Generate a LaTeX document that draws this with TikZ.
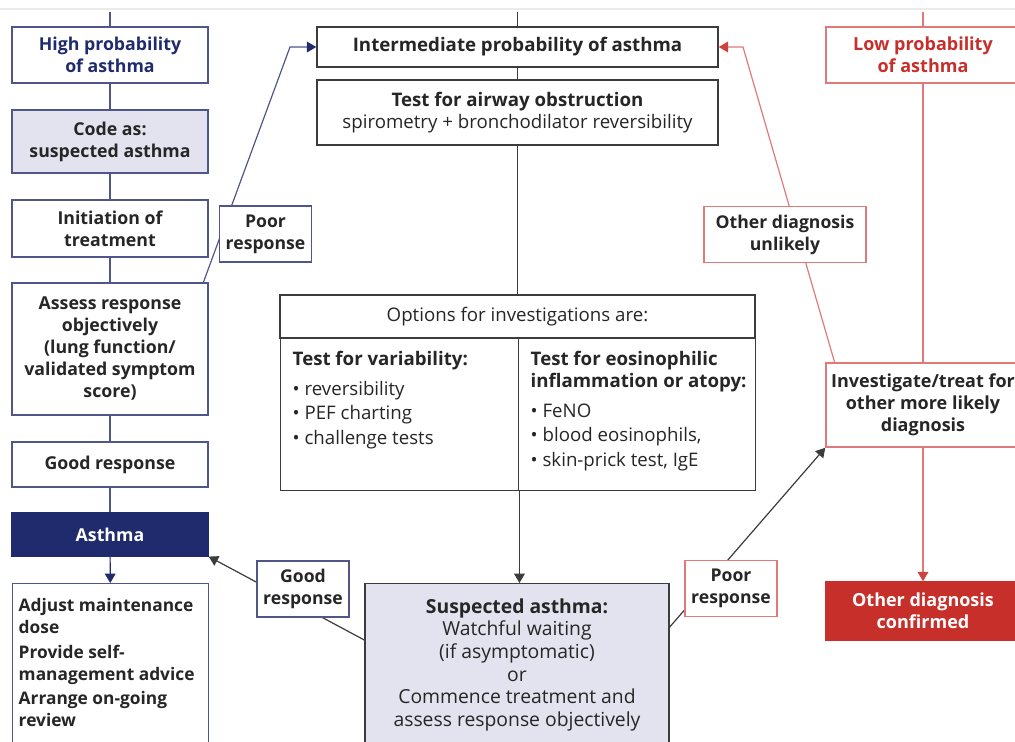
\documentclass[tikz,border=0pt]{standalone}
\usepackage{fontspec}
\setmainfont{Open Sans}
\usetikzlibrary{arrows.meta}

\begin{document}
\begin{tikzpicture}[x=0.75pt, y=-0.75pt, every node/.style={font=\fontsize{14}{16.5}\selectfont, align=center, text=black!85}]
  \definecolor{bleu}{HTML}{1F2B6C} \definecolor{bleutrait}{HTML}{50558A} \definecolor{lavande}{HTML}{E3E3EF}
  \definecolor{rouge}{HTML}{C62F2A} \definecolor{rougetrait}{HTML}{E07A7A} \definecolor{gris}{HTML}{3C3C3C}
  \tikzstyle{gras}=[font=\fontsize{14}{16.5}\selectfont\bfseries]
  \tikzstyle{boite}=[draw, line width=1.1pt, fill=white, inner sep=0pt]
  \tikzstyle{gauche}=[boite, font=\fontsize{13.3}{16.5}\selectfont\bfseries, draw=bleutrait, minimum width=147pt]
  \tikzstyle{centre}=[boite, draw=gris]
  \tikzstyle{droite}=[boite, font=\fontsize{13.5}{16.5}\selectfont\bfseries, draw=rougetrait, minimum width=145.5pt]
  \tikzstyle{etiquette}=[boite, font=\fontsize{13.2}{16.5}\selectfont\bfseries, minimum width=69pt, minimum height=42pt]
  \tikzstyle{trait}=[line width=1.1pt]
  \tikzstyle{edge}=[-{Triangle[length=7pt, width=8pt]}, line width=0.9pt]
  \useasboundingbox (0,0) rectangle (1015,742);
  \draw[black!8, line width=1.2pt] (0,9) -- (1015,9);
  % high probability column
  \node[gauche, text=bleu, minimum height=42pt] (high) at (110,55) {High probability\\of asthma};
  \node[gauche, fill=lavande, minimum height=47pt] (code) at (110,141.5) {Code as:\\suspected asthma};
  \node[gauche, minimum height=43pt] (init) at (110,228.5) {Initiation of\\treatment};
  \node[gauche, minimum height=99pt] (assess) at (110,349) {Assess response\\objectively\\(lung function/\\validated symptom\\score)};
  \node[gauche, minimum height=34pt] (good) at (110,464.5) {Good response};
  \node[gauche, fill=bleu, draw=bleu, text=white, minimum height=32pt] (asthma) at (110,534.5) {Asthma};
  \node[gauche, font=\fontsize{13}{16.5}\selectfont\bfseries, anchor=north west, inner xsep=4.5pt, inner ysep=11pt] (advice) at (12,583) {\begin{minipage}[t][112pt][t]{138pt}\raggedright Adjust maintenance\\dose\\[2pt] Provide self-\\management advice\\[2pt] Arrange on-going\\review\end{minipage}};
  % intermediate column
  \node[centre, gras, minimum width=300.75pt, minimum height=30pt] (inter) at (517.5,47) {Intermediate probability of asthma};
  \node[centre, minimum width=300.75pt, minimum height=48.75pt] (airway) at (517.5,112.5) {\textbf{Test for airway obstruction}\\spirometry + bronchodilator reversibility};
  \node[centre, minimum width=356.25pt, minimum height=32.25pt] (opthead) at (517.5,316.5) {Options for investigations are:};
  \node[centre, anchor=north west, inner xsep=9pt, inner ysep=9pt] (optvar) at (280,338) {\begin{minipage}[t][96pt][t]{160.5pt}\raggedright\textbf{Test for variability:}\\[6pt] \textbullet\ reversibility\\[2pt] \textbullet\ PEF charting\\[2pt] \textbullet\ challenge tests\end{minipage}};
  \node[centre, anchor=north west, inner xsep=6pt, inner ysep=9pt] (opteos) at (518,338) {\begin{minipage}[t][96pt][t]{165.75pt}\raggedright\hspace*{3pt}\textbf{Test for eosinophilic}\\\hspace*{3pt}\textbf{inflammation or atopy:}\\[6pt] \hspace*{3pt}\textbullet\ FeNO\\[2pt] \hspace*{3pt}\textbullet\ blood eosinophils,\\[2pt] \hspace*{3pt}\textbullet\ skin-prick test, IgE\end{minipage}};
  \node[centre, fill=lavande, font=\fontsize{14.5}{17}\selectfont, anchor=north, inner xsep=9pt, inner ysep=11pt] (suspect) at (517,583) {\begin{minipage}[t][113pt][t]{210pt}\centering\textbf{Suspected asthma:}\\Watchful waiting\\(if asymptomatic)\\or\\Commence treatment and\\assess response objectively\end{minipage}};
  % low probability column
  \node[droite, text=rouge, minimum height=42pt] (low) at (923,55) {Low probability\\of asthma};
  \node[droite, minimum height=63pt] (invest) at (923,405) {Investigate/treat for\\other more likely\\diagnosis};
  \node[droite, fill=rouge, draw=rouge, text=white, minimum height=43.5pt] (confirm) at (923,611) {Other diagnosis\\confirmed};
  % connectors
  \coordinate (haut1) at (110,12); \coordinate (haut2) at (517.5,12); \coordinate (haut3) at (923,12);
  \foreach \a/\b in {haut1/high, high/code, code/init, init/assess, assess/good, good/asthma}
    \draw[trait, bleutrait] (\a) -- (\b);
  \draw[edge, bleu] (asthma) -- (advice);
  \foreach \a/\b in {haut2/inter, inter/airway, airway/opthead}
    \draw[trait, gris] (\a) -- (\b);
  \draw[edge, gris] (optvar.south east) -- (optvar.south east |- suspect.north);
  \foreach \a/\b in {haut3/low, low/invest}
    \draw[trait, rougetrait] (\a) -- (\b);
  \draw[edge, rougetrait, -{Triangle[length=7pt, width=8pt, color=rouge!90]}] (invest) -- (confirm);
  \coordinate (coude1) at (290,47); \coordinate (coude2) at (743,47);
  \draw[edge, bleutrait, -{Triangle[length=7pt, width=8pt, color=bleu]}] ([xshift=-4pt]assess.north east) -- (coude1) -- (inter.west);
  \draw[edge, rougetrait, -{Triangle[length=7pt, width=8pt, color=rouge!90]}] ([xshift=7pt]invest.north west) -- (coude2) -- (inter.east);
  \draw[edge, gris] ([yshift=-42.75pt]suspect.north west) -- (asthma.south east);
  \draw[edge, gris] ([yshift=-33pt]suspect.north east) -- (invest.south west);
  % labels
  \node[etiquette, draw=bleutrait] (poor1) at (265.5,234) {Poor\\response};
  \node[etiquette, draw=bleutrait] (good1) at (303,589) {Good\\response};
  \node[etiquette, draw=rougetrait] (poor2) at (731,588.5) {Poor\\response};
  \node[etiquette, draw=rougetrait, minimum width=121.5pt] (unlikely) at (785,234.5) {Other diagnosis\\unlikely};
\end{tikzpicture}
\end{document}
